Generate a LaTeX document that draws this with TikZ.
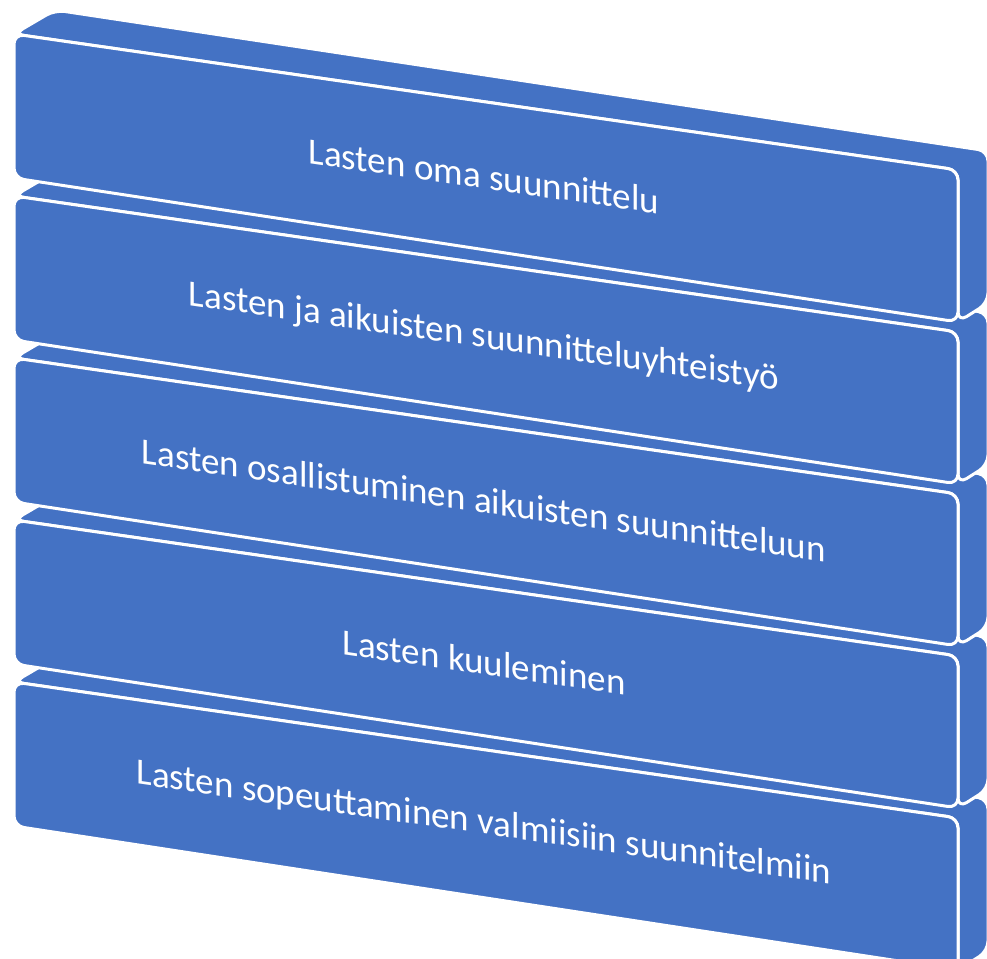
\documentclass[tikz,border=0pt]{standalone}
\usepackage{fontspec}
\setmainfont{Carlito}
\definecolor{slab}{HTML}{4472C4}
\begin{document}
\begin{tikzpicture}[x=1pt,y=-1pt,
  face/.style={fill=slab, draw=white, line width=3pt, rounded corners=10pt, line join=round},
  lbl/.style={text=white, font=\fontsize{37}{41}\selectfont, yslant=-0.144, inner sep=0pt}]
\useasboundingbox (0,0) rectangle (987,958);
\clip (0,0) rectangle (987,958);
\foreach \i/\t in {4/{Lasten sopeuttaminen valmiisiin suunnitelmiin},
                   3/{Lasten kuuleminen},
                   2/{Lasten osallistuminen aikuisten suunnitteluun},
                   1/{Lasten ja aikuisten suunnitteluyhteistyö},
                   0/{Lasten oma suunnittelu}}{
  \pgfmathsetmacro{\yo}{34+162*\i}
  \draw[face] (14,\yo) -- (55,\yo-24) -- (988,\yo+117) -- (988,\yo+269) -- (958,\yo+288) -- (958,\yo+136) -- cycle;
  \draw[face] (14,\yo) -- (958,\yo+136) -- (958,\yo+288) -- (14,\yo+144) -- cycle;
  \node[lbl] (t\i) at (484,\yo+142) {\t};
}
\end{tikzpicture}
\end{document}
